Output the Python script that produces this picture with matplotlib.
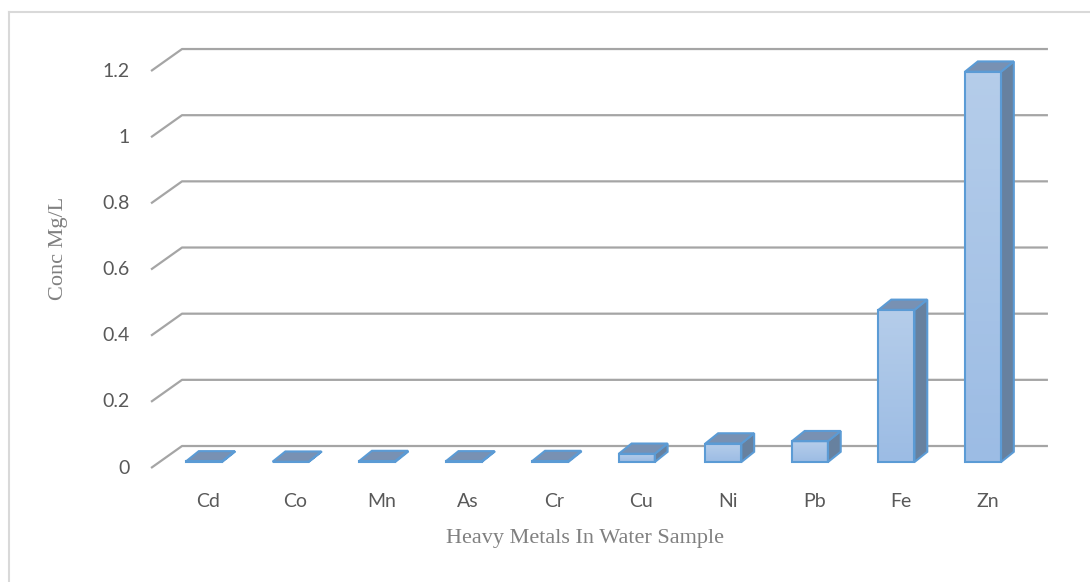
import matplotlib
matplotlib.use("Agg")
import matplotlib.pyplot as plt
import numpy as np
from matplotlib.patches import Polygon
from matplotlib.lines import Line2D
from matplotlib.colors import LinearSegmentedColormap

metals = ["Cd", "Co", "Mn", "As", "Cr", "Cu", "Ni", "Pb", "Fe", "Zn"]
conc = [0.002, 0.001, 0.003, 0.002, 0.003, 0.025, 0.056, 0.063, 0.46, 1.18]
y_ticks = [0, 0.2, 0.4, 0.6, 0.8, 1.0, 1.2]
y_tick_labels = ["0", "0.2", "0.4", "0.6", "0.8", "1", "1.2"]

# fake 3d: offsets in data units
wall_dx, wall_dy = 0.358, 0.0665   # front edge -> back wall
floor_y = 0.018                    # bars stand a bit behind the front edge
bar_w = 0.416
bar_dx, bar_dy = 0.148, 0.031
grid_x0, grid_x1 = -0.612, 9.75

edge = "#5b9bd5"
side_col = "#67819f"
top_col = "#7891b3"
front_cmap = LinearSegmentedColormap.from_list("front", ["#9cbce4", "#b5cdea"])

fig = plt.figure(figsize=(10.9, 5.82), dpi=100)
ax = fig.add_axes([0, 0, 1, 1])

# gridlines: short diagonal on the floor edge, then along the back wall
for v in y_ticks:
    ax.plot([grid_x0, grid_x0 + wall_dx, grid_x1],
            [v, v + wall_dy, v + wall_dy],
            color="#a5a5a5", lw=1.6, zorder=1, solid_capstyle="butt")

grad = np.linspace(0, 1, 64).reshape(-1, 1)
for i, v in enumerate(conc):
    left, right = i - bar_w / 2, i + bar_w / 2
    base, top = floor_y, floor_y + v
    ax.imshow(grad, extent=[left, right, base, top], origin="lower",
              cmap=front_cmap, aspect="auto", zorder=3)
    ax.add_patch(plt.Rectangle((left, base), bar_w, v, fill=False,
                               edgecolor=edge, lw=1.5, zorder=4))
    side = [(right, base), (right + bar_dx, base + bar_dy),
            (right + bar_dx, top + bar_dy), (right, top)]
    ax.add_patch(Polygon(side, closed=True, facecolor=side_col,
                         edgecolor=edge, lw=1.5, zorder=3))
    lid = [(left, top), (left + bar_dx, top + bar_dy),
           (right + bar_dx, top + bar_dy), (right, top)]
    ax.add_patch(Polygon(lid, closed=True, facecolor=top_col,
                         edgecolor=edge, lw=1.5, zorder=3))

ax.set_xlim(-2.357, 10.236)
ax.set_ylim(-0.3446, 1.4147)
ax.axis("off")

tick_font = dict(color="#595959", fontsize=14, family="Lato")
for v, lab in zip(y_ticks, y_tick_labels):
    ax.text(-0.855, v, lab, ha="right", va="center", **tick_font)
for i, m in enumerate(metals):
    ax.text(i + 0.05, -0.1, m, ha="center", va="center", **tick_font)

title_font = dict(color="#808080", fontsize=16, family="Liberation Serif")
fig.text(585 / 1090, 1 - 538 / 582, "Heavy Metals In Water Sample",
         ha="center", va="center", **title_font)
fig.text(58 / 1090, 1 - 248 / 582, "Conc Mg/L", rotation=90,
         ha="center", va="center", **title_font)

# chart frame (only left and top edges fall inside the image)
fig.add_artist(Line2D([9 / 1090, 9 / 1090], [0, 1 - 12 / 582],
                      transform=fig.transFigure, color="#d9d9d9", lw=1.5))
fig.add_artist(Line2D([9 / 1090, 1], [1 - 12 / 582, 1 - 12 / 582],
                      transform=fig.transFigure, color="#d9d9d9", lw=1.5))

fig.savefig("out.png", dpi=100)
